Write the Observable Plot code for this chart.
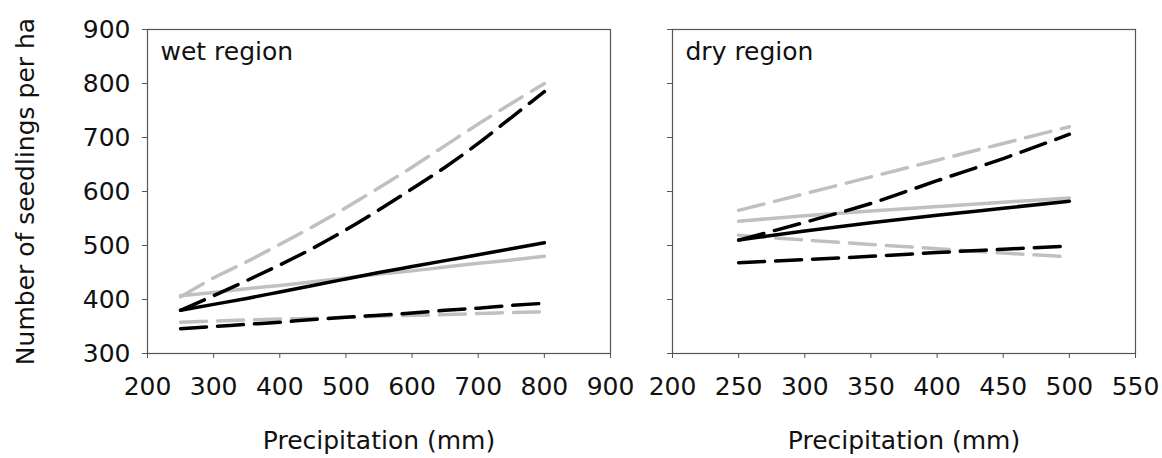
<!DOCTYPE html>
<html>
<head>
<meta charset="utf-8">
<script src="https://cdn.jsdelivr.net/npm/d3@7"></script>
<script src="https://cdn.jsdelivr.net/npm/@observablehq/plot@0.6"></script>
<style>
  html, body { margin: 0; padding: 0; background: #fff; }
  #wrap { position: relative; width: 1162px; height: 458px; overflow: hidden; }
  #wet { position: absolute; left: 0; top: 0; }
  #dry { position: absolute; left: 640px; top: 0; }
</style>
</head>
<body>
<div id="wrap"><div id="wet"></div><div id="dry"></div></div>
<script>
// ---- data ----
const yTicks = [300, 400, 500, 600, 700, 800, 900];
const wetXTicks = [200, 300, 400, 500, 600, 700, 800, 900];
const dryXTicks = [200, 250, 300, 350, 400, 450, 500, 550];

const wetPrecip = [250, 300, 350, 400, 450, 500, 550, 600, 650, 700, 750, 800];
const wetBlackSolid   = [380, 391, 402, 414, 426, 438, 450, 461, 472, 483, 494, 505];
const wetGraySolid    = [407, 413, 420, 426, 433, 440, 447, 453, 460, 467, 473, 480];
const wetBlackDashHi  = [380, 407, 435, 464, 495, 529, 566, 605, 645, 689, 737, 785];
const wetGrayDashHi   = [405, 440, 470, 502, 535, 570, 607, 645, 685, 725, 763, 800];
const wetBlackDashLo  = [346, 350, 354, 358, 363, 367, 371, 375, 380, 384, 389, 393];
const wetGrayDashLo   = [358, 360, 362, 364, 365, 367, 369, 371, 372, 374, 376, 377];

const dryPrecip = [250, 300, 350, 400, 450, 500];
const dryBlackSolid   = [510, 527, 542, 556, 569, 582];
const dryGraySolid    = [545, 555, 564, 572, 580, 588];
const dryBlackDashHi  = [510, 543, 578, 620, 661, 706];
const dryGrayDashHi   = [565, 596, 627, 658, 689, 720];
const dryBlackDashLo  = [468, 474, 480, 487, 493, 499];
const dryGrayDashLo   = [519, 510, 502, 494, 486, 479];

const BLACK = "#000000";
const GRAY = "#c0c0c0";
const DASH = "26,11";
const FS = 25;

function rows(xs, ys) { return xs.map((x, i) => ({x, y: ys[i]})); }

function panel(opts) {
  const {width, marginLeft, marginRight, xDomain, xTicks, title, series, yLabels, xLabel, yLabel} = opts;
  const marks = [];
  for (const s of series) {
    marks.push(Plot.line(rows(s.xs, s.ys), {
      x: "x", y: "y", stroke: s.color, strokeWidth: 3.5,
      strokeDasharray: s.dashed ? DASH : null, curve: "monotone-x"
    }));
  }
  marks.push(Plot.frame({stroke: "#555", strokeWidth: 1.2}));
  marks.push(Plot.axisY(yTicks, {
    tickSize: 5, tickPadding: 12, stroke: "#555", fill: "#111", fontSize: FS,
    tickFormat: yLabels ? (d => String(d)) : (() => ""), label: null
  }));
  marks.push(Plot.axisX(xTicks, {
    tickSize: 5, tickPadding: 19, stroke: "#555", fill: "#111", fontSize: FS,
    tickFormat: d => String(d), label: null
  }));
  marks.push(Plot.text([title], {
    frameAnchor: "top-left", textAnchor: "start", lineAnchor: "middle",
    dx: 13, dy: 22, fill: "#111", fontSize: FS
  }));
  marks.push(Plot.text([xLabel], {
    frameAnchor: "bottom", textAnchor: "middle", lineAnchor: "middle", dy: 87, fill: "#111", fontSize: FS
  }));
  if (yLabel) {
    marks.push(Plot.text([yLabel], {
      frameAnchor: "left", textAnchor: "middle", lineAnchor: "middle", rotate: -90, dx: -122, fill: "#111", fontSize: FS
    }));
  }
  return Plot.plot({
    width, height: 458,
    marginLeft, marginRight, marginTop: 29, marginBottom: 105,
    style: {fontFamily: "'DejaVu Sans', sans-serif", fontSize: FS + "px", background: "transparent", overflow: "visible", maxWidth: "none"},
    x: {domain: xDomain},
    y: {domain: [300, 900]},
    marks
  });
}

const wetSeries = [
  {xs: wetPrecip, ys: wetGraySolid, color: GRAY, dashed: false},
  {xs: wetPrecip, ys: wetGrayDashHi, color: GRAY, dashed: true},
  {xs: wetPrecip, ys: wetGrayDashLo, color: GRAY, dashed: true},
  {xs: wetPrecip, ys: wetBlackSolid, color: BLACK, dashed: false},
  {xs: wetPrecip, ys: wetBlackDashHi, color: BLACK, dashed: true},
  {xs: wetPrecip, ys: wetBlackDashLo, color: BLACK, dashed: true}
];
const drySeries = [
  {xs: dryPrecip, ys: dryGraySolid, color: GRAY, dashed: false},
  {xs: dryPrecip, ys: dryGrayDashHi, color: GRAY, dashed: true},
  {xs: dryPrecip, ys: dryGrayDashLo, color: GRAY, dashed: true},
  {xs: dryPrecip, ys: dryBlackSolid, color: BLACK, dashed: false},
  {xs: dryPrecip, ys: dryBlackDashHi, color: BLACK, dashed: true},
  {xs: dryPrecip, ys: dryBlackDashLo, color: BLACK, dashed: true}
];

document.getElementById("wet").appendChild(panel({
  width: 640, marginLeft: 147, marginRight: 30,
  xDomain: [200, 900], xTicks: wetXTicks, title: "wet region", series: wetSeries,
  yLabels: true, xLabel: "Precipitation (mm)", yLabel: "Number of seedlings per ha"
}));
document.getElementById("dry").appendChild(panel({
  width: 522, marginLeft: 32, marginRight: 27,
  xDomain: [200, 550], xTicks: dryXTicks, title: "dry region", series: drySeries,
  yLabels: false, xLabel: "Precipitation (mm)", yLabel: null
}));
</script>
</body>
</html>
